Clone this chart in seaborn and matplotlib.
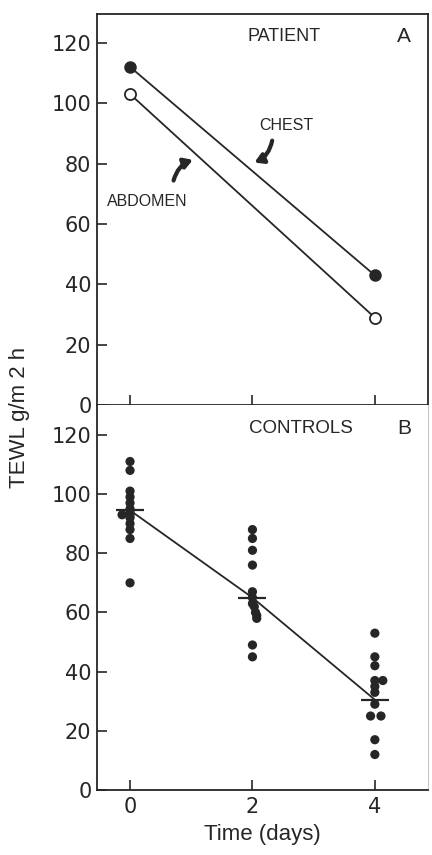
import matplotlib
matplotlib.use("Agg")
import matplotlib.pyplot as plt
import numpy as np
import pandas as pd
import seaborn as sns

# ── Data ────────────────────────────────────────────────────────────────────
days_patient = [0, 4]
chest = [112, 43]
abdomen = [103, 29]

days_controls = [0, 2, 4]
control_means = [94.5, 65, 30.5]

day0_vals = [111, 108, 101, 99, 97, 95, 94, 93, 93, 92, 90, 88, 85, 70]
day0_shift = [0, 0, 0, 0, 0, 0, 0, 0, -0.13, 0, 0, 0, 0, 0]
day2_vals = [88, 85, 81, 76, 67, 65, 63, 62, 60, 59, 58, 49, 45]
day2_shift = [0, 0, 0, 0, 0, 0, 0, 0.03, 0.05, 0.07, 0.07, 0, 0]
day4_vals = [53, 45, 42, 37, 37, 35, 33, 29, 25, 25, 17, 12]
day4_shift = [0, 0, 0, 0, 0.13, 0, 0, 0, -0.07, 0.1, 0, 0]

ink = "#262626"

sns.set_style("ticks")
plt.rcParams["font.family"] = ["Liberation Sans", "DejaVu Sans"]

ctrl = pd.DataFrame({
    "day": [0] * len(day0_vals) + [2] * len(day2_vals) + [4] * len(day4_vals),
    "shift": day0_shift + day2_shift + day4_shift,
    "tewl": day0_vals + day2_vals + day4_vals,
})
ctrl["xpos"] = ctrl["day"] + ctrl["shift"]

fig = plt.figure(figsize=(4.32, 8.55), dpi=100)
axA = fig.add_axes([0.2245, 0.526, 0.7665, 0.4576])
axB = fig.add_axes([0.2245, 0.076, 0.7665, 0.450])

# ── Panel A: patient ────────────────────────────────────────────────────────
sns.lineplot(x=days_patient, y=chest, ax=axA, color=ink, lw=1.3)
sns.lineplot(x=days_patient, y=abdomen, ax=axA, color=ink, lw=1.3)
axA.plot(days_patient, chest, "o", ms=8, mfc=ink, mec=ink, zorder=5)
axA.plot(days_patient, abdomen, "o", ms=8, mfc="white", mec=ink, mew=1.3, zorder=5)

axA.text(2.51, 122, "PATIENT", ha="center", va="center", fontsize=13, color=ink)
axA.text(4.48, 122, "A", ha="center", va="center", fontsize=15, color=ink)
axA.text(2.56, 92.5, "CHEST", ha="center", va="center", fontsize=11.5, color=ink)
axA.text(0.28, 67.5, "ABDOMEN", ha="center", va="center", fontsize=11.5, color=ink)
axA.annotate("", xy=(1.99, 80), xytext=(2.33, 88.5),
             arrowprops=dict(arrowstyle="-|>,head_length=0.5,head_width=0.3",
                             color=ink, lw=3, connectionstyle="arc3,rad=-0.3"))
axA.annotate("", xy=(1.07, 81.5), xytext=(0.7, 73.5),
             arrowprops=dict(arrowstyle="-|>,head_length=0.5,head_width=0.3",
                             color=ink, lw=3, connectionstyle="arc3,rad=-0.3"))

# ── Panel B: controls ───────────────────────────────────────────────────────
sns.lineplot(x=days_controls, y=control_means, ax=axB, color=ink, lw=1.3)
sns.scatterplot(data=ctrl, x="xpos", y="tewl", ax=axB, color=ink, s=44,
                edgecolor="none", zorder=5)
axB.plot(days_controls, control_means, "_", ms=20, mew=1.6, color=ink, zorder=6)

axB.text(2.8, 122, "CONTROLS", ha="center", va="center", fontsize=13.5, color=ink)
axB.text(4.48, 122, "B", ha="center", va="center", fontsize=15, color=ink)

for ax, top in [(axA, 129.5), (axB, 130)]:
    ax.set_xlim(-0.54, 4.87)
    ax.set_ylim(0, top)
    ax.set_xticks([0, 2, 4])
    ax.set_yticks([0, 20, 40, 60, 80, 100, 120])
    ax.set_yticklabels(["0", "20", "40", "60", "80", "100", "120"])
    ax.tick_params(direction="in", length=7, width=1.2, colors=ink,
                   labelsize=15, pad=4)
    for lab in ax.get_xticklabels() + ax.get_yticklabels():
        lab.set_fontfamily("DejaVu Sans")
    ax.set_xlabel("")
    ax.set_ylabel("")
    for s in ax.spines.values():
        s.set_color(ink)
        s.set_linewidth(1.3)

axA.tick_params(axis="x", labelbottom=False)
axB.spines["top"].set_visible(False)
axB.spines["right"].set_color("#c8c8c8")
axB.spines["right"].set_linewidth(0.8)
axB.tick_params(axis="x", pad=5)
axB.set_xlabel("Time (days)", fontsize=16, color=ink, labelpad=5)

fig.text(0.045, 0.512, "TEWL g/m 2 h", rotation=90, ha="center", va="center",
         fontsize=16, color=ink)

fig.savefig("out.png", dpi=100)
plt.close(fig)
